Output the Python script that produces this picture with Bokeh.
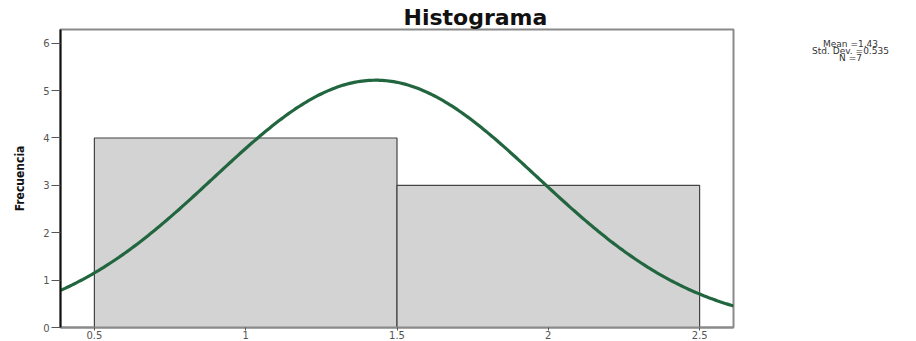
import numpy as np
from bokeh.plotting import figure
from bokeh.models import Range1d, FixedTicker
from bokeh.layouts import row
from bokeh.core.properties import value
from bokeh.embed import file_html
from bokeh.resources import INLINE

# Data
bin_left = [0.5, 1.5]
bin_right = [1.5, 2.5]
counts = [4, 3]
mean = 1.43
std_dev = 0.535
n_obs = 7
bin_width = 1.0
x_ticks = [0.5, 1, 1.5, 2, 2.5]
y_ticks = [0, 1, 2, 3, 4, 5, 6]
stats_lines = ["Mean =1.43", "Std. Dev. =0.535", "N =7"]

p = figure(width=760, height=341, output_backend="svg", toolbar_location=None,
           x_range=Range1d(0.388, 2.612), y_range=Range1d(0, 6.29),
           min_border_left=60, min_border_right=27, min_border_top=29, min_border_bottom=0)
p.xgrid.visible = False
p.ygrid.visible = False
p.outline_line_color = "#8a8a8a"
p.outline_line_width = 2

p.title.text = "Histograma"
p.title.align = "left"
p.title.offset = 343
p.title.text_font = "DejaVu Sans"
p.title.text_font_style = "bold"
p.title.text_font_size = "22px"
p.title.text_color = "#111111"
p.title.standoff = 0

p.quad(left=bin_left, right=bin_right, bottom=0, top=counts,
       fill_color="#d3d3d3", line_color="#444444", line_width=1.2)

xs = np.linspace(0.388, 2.612, 300)
ys = n_obs * bin_width * np.exp(-0.5 * ((xs - mean) / std_dev) ** 2) / (std_dev * np.sqrt(2 * np.pi))
p.line(xs, ys, line_color="#21663f", line_width=3.2)

p.yaxis.ticker = FixedTicker(ticks=y_ticks)
p.xaxis.ticker = FixedTicker(ticks=x_ticks)
p.xaxis.major_label_overrides = {0.5: "0.5", 1: "1", 1.5: "1.5", 2: "2", 2.5: "2.5"}
for ax in (p.xaxis[0], p.yaxis[0]):
    ax.minor_tick_line_color = None
    ax.major_tick_in = 0
    ax.major_label_text_font = "DejaVu Sans"
    ax.major_label_text_color = "#555555"
    ax.major_tick_line_color = "#555555"
p.yaxis.major_tick_out = 9
p.yaxis.major_label_text_font_size = "10px"
p.yaxis.major_label_standoff = 2
p.xaxis.major_tick_out = 3
p.xaxis.major_label_standoff = 0
p.xaxis.major_label_text_font_size = "10px"
p.yaxis.axis_line_color = "#111111"
p.yaxis.axis_line_width = 2
p.xaxis.axis_line_color = "#8a8a8a"
p.xaxis.axis_line_width = 2
p.yaxis.axis_label = "Frecuencia"
p.yaxis.axis_label_text_font = "DejaVu Sans Condensed"
p.yaxis.axis_label_text_font_style = "bold"
p.yaxis.axis_label_text_font_size = "12px"
p.yaxis.axis_label_text_color = "#111111"
p.yaxis.axis_label_standoff = 13

s = figure(width=156, height=341, output_backend="svg", toolbar_location=None,
           x_range=Range1d(760, 916), y_range=Range1d(329, 29),
           min_border_left=0, min_border_right=0, min_border_top=0, min_border_bottom=0)
s.axis.visible = False
s.xgrid.visible = False
s.ygrid.visible = False
s.outline_line_color = None
s.text(x=[850, 850, 850], y=[44, 51, 58], text=stats_lines, text_align="center",
       text_baseline="middle", text_font=value("DejaVu Sans"), text_font_size="9px",
       text_color="#333333")

layout = row(p, s, spacing=0)
open("out.html", "w").write(file_html(layout, INLINE))
